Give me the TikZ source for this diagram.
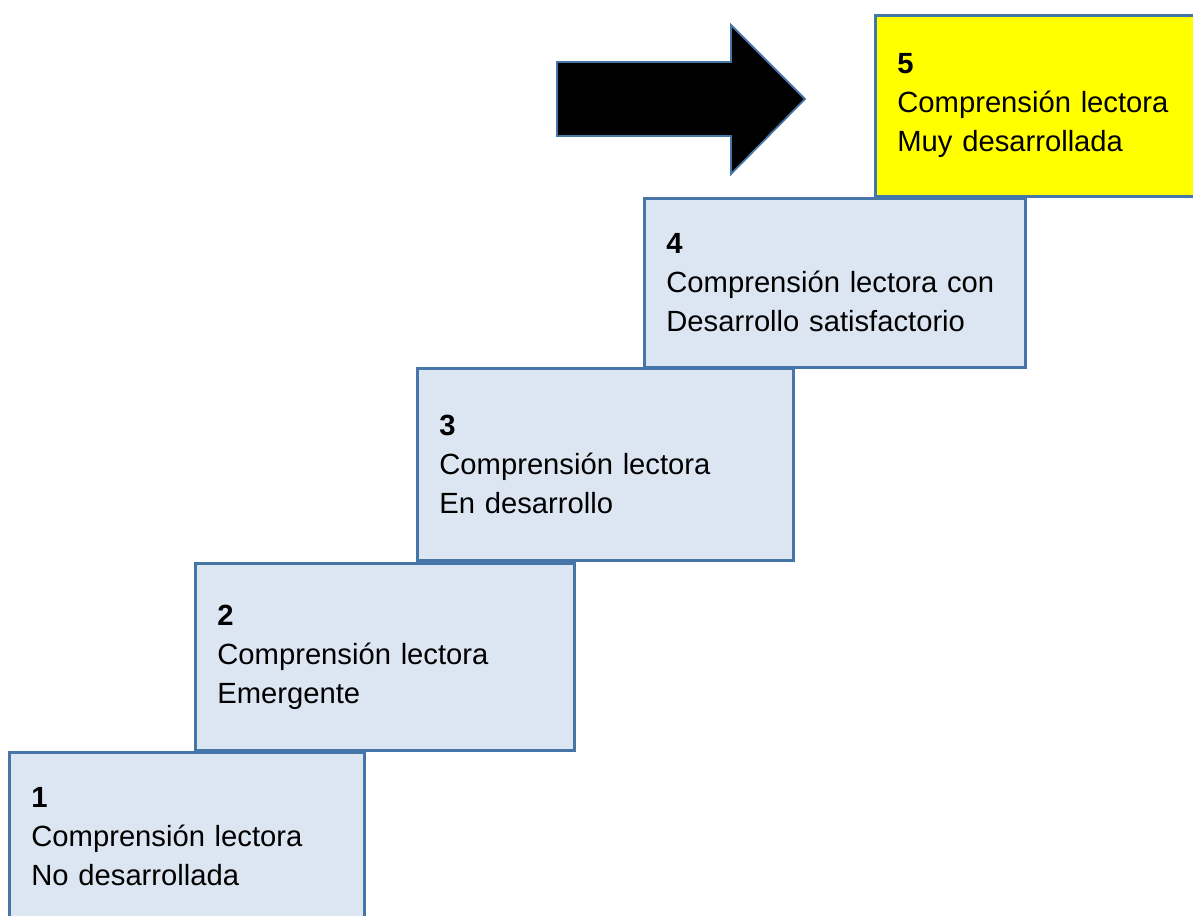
\documentclass[tikz,border=0pt]{standalone}
\usepackage{fontspec}
\setmainfont{Liberation Sans}
\usepackage{xcolor}
\usepackage{tikz}

\definecolor{borde}{HTML}{4676A8}
\definecolor{relleno}{HTML}{DCE6F2}
\definecolor{amarillo}{HTML}{FFFF00}

\begin{document}
\begin{tikzpicture}[x=0.5pt, y=-0.5pt,
		nivel/.style={rectangle, draw=borde, line width=1.4pt, fill=relleno, anchor=north west,
			inner xsep=11pt, align=left, font=\fontsize{14.6}{19.5}\selectfont}]
		\useasboundingbox (0,0) rectangle (1193,915);
		\clip (0,0) rectangle (1193,915);

		\node[nivel, minimum width=177.5pt, minimum height=84.5pt, text width=155.5pt] (n1) at (8,751)
			{\textbf{1}\\Comprensión lectora\\No desarrollada};
		\node[nivel, minimum width=189.5pt, minimum height=93.5pt, text width=167.5pt] (n2) at (194,562)
			{\textbf{2}\\Comprensión lectora\\Emergente};
		\node[nivel, minimum width=188pt, minimum height=96pt, text width=166pt] (n3) at (416,367)
			{\textbf{3}\\Comprensión lectora\\En desarrollo};
		\node[nivel, minimum width=190.5pt, minimum height=84.5pt, text width=168.5pt] (n4) at (643,197)
			{\textbf{4}\\Comprensión lectora con\\Desarrollo satisfactorio};
		\node[nivel, fill=amarillo, minimum width=190pt, minimum height=90.5pt, text width=168pt] (n5) at (874,14)
			{\textbf{5}\\Comprensión lectora\\Muy desarrollada};

		% flecha hacia el nivel 5
		\draw[draw=borde, line width=0.9pt, fill=black, line join=miter]
			(557,62) -- (731,62) -- (731,25) -- (805,99) -- (731,174) -- (731,136) -- (557,136) -- cycle;
	\end{tikzpicture}
\end{document}
